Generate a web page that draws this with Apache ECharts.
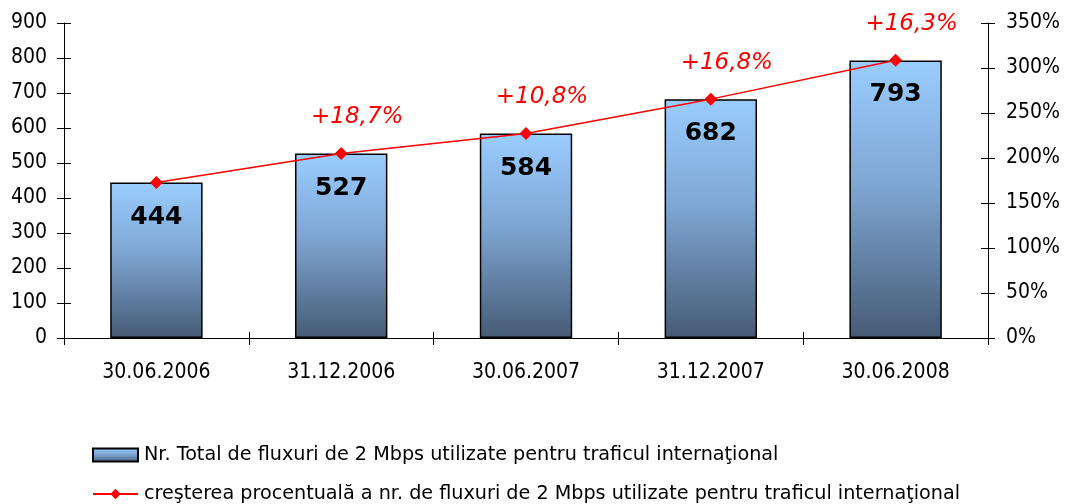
<!DOCTYPE html>
<html>
<head>
<meta charset="utf-8">
<script src="https://cdn.jsdelivr.net/npm/echarts@6/dist/echarts.min.js"></script>
<style>
html, body { margin: 0; padding: 0; background: #fff; }
#chart { width: 1065px; height: 504px; }
</style>
</head>
<body>
<div id="chart"></div>
<script>
// date de pe grafic
var categories = ['30.06.2006', '31.12.2006', '30.06.2007', '31.12.2007', '30.06.2008']
var totalFluxuri = [444, 527, 584, 682, 793]
var cresterePct = [172.8, 205.1, 227.2, 265.4, 308.6]
var cresteriLabels = ['', '+18,7%', '+10,8%', '+16,8%', '+16,3%']
var leftTicks = { min: 0, max: 900, interval: 100 }
var rightTicks = { min: 0, max: 350, interval: 50 }

var numeBar = 'Nr. Total de fluxuri de 2 Mbps utilizate pentru traficul internaţional'
var numeLinie = 'creşterea procentuală a nr. de fluxuri de 2 Mbps utilizate pentru traficul internaţional'

var font = "'DejaVu Sans Condensed', 'Liberation Sans', sans-serif"
var axisLine = { show: true, lineStyle: { color: '#000', width: 1 } }

var chart = echarts.init(document.getElementById('chart'))
var option = {
    animation: false,
    textStyle: { fontFamily: font, color: '#000' },
    grid: { left: 64, right: 77, top: 23, bottom: 166 },
    legend: {
        orient: 'vertical',
        left: 92,
        bottom: -1,
        padding: 0,
        itemWidth: 45,
        itemHeight: 13,
        itemGap: 17,
        textStyle: {
            fontSize: 19.2,
            lineHeight: 22,
            color: '#000',
            fontFamily: "'DejaVu Sans', sans-serif",
            padding: [0, 0, 0, 1]
        },
        data: [{ name: numeBar, icon: 'rect' }, { name: numeLinie }]
    },
    xAxis: [{
        type: 'category',
        data: categories,
        position: 'bottom',
        axisLine: axisLine,
        axisTick: { show: true, length: 7, lineStyle: { color: '#000' } },
        axisLabel: { fontSize: 21, color: '#000', margin: 24, fontFamily: font }
    }, {
        // ticks spre interior
        type: 'category',
        data: categories,
        position: 'bottom',
        axisLine: { show: false },
        axisTick: { show: true, inside: true, length: 6, lineStyle: { color: '#000' } },
        axisLabel: { show: false }
    }],
    yAxis: [{
        type: 'value',
        position: 'left',
        min: leftTicks.min, max: leftTicks.max, interval: leftTicks.interval,
        axisLine: axisLine,
        axisTick: { show: true, length: 7, lineStyle: { color: '#000' } },
        splitLine: { show: false },
        axisLabel: { fontSize: 21, color: '#000', margin: 17, fontFamily: font }
    }, {
        type: 'value',
        position: 'right',
        min: rightTicks.min, max: rightTicks.max, interval: rightTicks.interval,
        axisLine: axisLine,
        axisTick: { show: true, length: 7, lineStyle: { color: '#000' } },
        splitLine: { show: false },
        axisLabel: { fontSize: 21, color: '#000', margin: 18, fontFamily: font, formatter: '{value}%' }
    }, {
        type: 'value',
        position: 'left',
        min: leftTicks.min, max: leftTicks.max, interval: leftTicks.interval,
        axisLine: { show: false },
        axisTick: { show: true, inside: true, length: 7, lineStyle: { color: '#000' } },
        splitLine: { show: false },
        axisLabel: { show: false }
    }, {
        type: 'value',
        position: 'right',
        min: rightTicks.min, max: rightTicks.max, interval: rightTicks.interval,
        axisLine: { show: false },
        axisTick: { show: true, inside: true, length: 7, lineStyle: { color: '#000' } },
        splitLine: { show: false },
        axisLabel: { show: false }
    }],
    series: [{
        name: numeBar,
        type: 'bar',
        data: totalFluxuri,
        barWidth: '50%',
        itemStyle: {
            borderColor: '#000',
            borderWidth: 1.5,
            color: new echarts.graphic.LinearGradient(0, 0, 0, 1, [
                { offset: 0, color: '#9acdff' },
                { offset: 0.45, color: '#7ea6d3' },
                { offset: 1, color: '#465b75' }
            ])
        },
        label: {
            show: true,
            position: 'insideTop',
            distance: 22,
            fontSize: 25,
            fontWeight: 'bold',
            color: '#000',
            fontFamily: "'DejaVu Sans', sans-serif"
        }
    }, {
        name: numeLinie,
        type: 'line',
        yAxisIndex: 1,
        data: cresterePct,
        symbol: 'diamond',
        symbolSize: 13,
        lineStyle: { color: '#ff0000', width: 1.5 },
        itemStyle: { color: '#ff0000' },
        label: {
            show: true,
            position: 'top',
            distance: 18,
            offset: [16, 0],
            fontSize: 23,
            fontStyle: 'italic',
            color: '#ff0000',
            fontFamily: "'DejaVu Sans', sans-serif",
            formatter: function (p) { return cresteriLabels[p.dataIndex] }
        }
    }]
}
chart.setOption(option)
</script>
</body>
</html>
